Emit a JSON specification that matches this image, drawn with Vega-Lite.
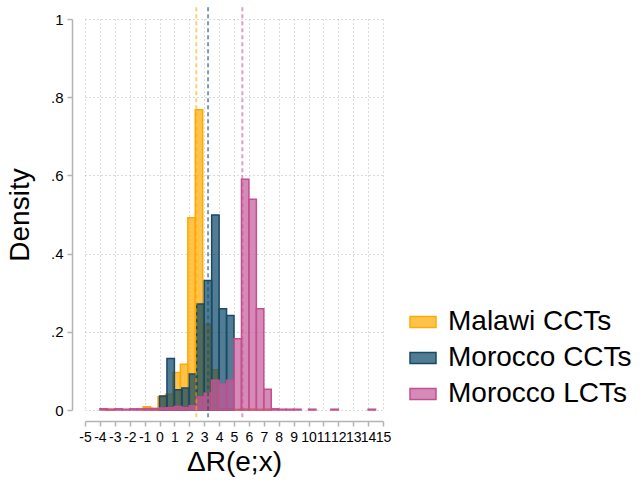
{
  "$schema": "https://vega.github.io/schema/vega-lite/v6.json",
  "width": 298,
  "height": 391,
  "autosize": "none",
  "padding": {"left": 85, "top": 19, "right": 257, "bottom": 73},
  "config": {
    "font": "Liberation Sans",
    "view": {"stroke": null},
    "axis": {
      "grid": true,
      "gridDash": [1, 3],
      "gridColor": "#b8b8b8",
      "gridWidth": 1,
      "domainColor": "#b4b4b4",
      "domainWidth": 1.5,
      "tickColor": "#b4b4b4",
      "tickWidth": 1.5,
      "tickSize": 5,
      "labelFontSize": 15,
      "labelColor": "#000000",
      "titleFontSize": 28,
      "titleFontWeight": "normal",
      "titleColor": "#000000"
    },
    "legend": {
      "orient": "none",
      "legendX": 324,
      "legendY": 289,
      "padding": 0,
      "symbolType": "M-1,-0.42H1V0.42H-1Z",
      "symbolSize": 676,
      "symbolStrokeWidth": 1.5,
      "labelFontSize": 28,
      "labelOffset": 11,
      "labelLimit": 400,
      "labelColor": "#000000",
      "rowPadding": 8
    }
  },
  "datasets": {
    "bins": [
      {"group": "Malawi CCTs", "lo": -3.6, "hi": -3.1, "density": 0.002},
      {"group": "Malawi CCTs", "lo": -1.1, "hi": -0.6, "density": 0.008},
      {"group": "Malawi CCTs", "lo": -0.6, "hi": -0.1, "density": 0.004},
      {"group": "Malawi CCTs", "lo": -0.1, "hi": 0.4, "density": 0.034},
      {"group": "Malawi CCTs", "lo": 0.4, "hi": 0.9, "density": 0.04},
      {"group": "Malawi CCTs", "lo": 0.9, "hi": 1.4, "density": 0.096},
      {"group": "Malawi CCTs", "lo": 1.4, "hi": 1.9, "density": 0.117},
      {"group": "Malawi CCTs", "lo": 1.9, "hi": 2.4, "density": 0.492},
      {"group": "Malawi CCTs", "lo": 2.4, "hi": 2.9, "density": 0.768},
      {"group": "Malawi CCTs", "lo": 2.9, "hi": 3.4, "density": 0.219},
      {"group": "Malawi CCTs", "lo": 3.4, "hi": 3.9, "density": 0.103},
      {"group": "Malawi CCTs", "lo": 3.9, "hi": 4.4, "density": 0.004},
      {"group": "Malawi CCTs", "lo": 4.4, "hi": 4.9, "density": 0.003},
      {"group": "Malawi CCTs", "lo": 4.9, "hi": 5.4, "density": 0.002},
      {"group": "Malawi CCTs", "lo": 5.4, "hi": 5.9, "density": 0.003},
      {"group": "Malawi CCTs", "lo": 5.9, "hi": 6.4, "density": 0.003},
      {"group": "Malawi CCTs", "lo": 6.4, "hi": 6.9, "density": 0.002},
      {"group": "Malawi CCTs", "lo": 6.9, "hi": 7.4, "density": 0.003},
      {"group": "Morocco CCTs", "lo": 0, "hi": 0.5, "density": 0.036},
      {"group": "Morocco CCTs", "lo": 0.5, "hi": 1, "density": 0.132},
      {"group": "Morocco CCTs", "lo": 1, "hi": 1.5, "density": 0.052},
      {"group": "Morocco CCTs", "lo": 1.5, "hi": 2, "density": 0.056},
      {"group": "Morocco CCTs", "lo": 2, "hi": 2.5, "density": 0.092},
      {"group": "Morocco CCTs", "lo": 2.5, "hi": 3, "density": 0.271},
      {"group": "Morocco CCTs", "lo": 3, "hi": 3.5, "density": 0.331},
      {"group": "Morocco CCTs", "lo": 3.5, "hi": 4, "density": 0.499},
      {"group": "Morocco CCTs", "lo": 4, "hi": 4.5, "density": 0.259},
      {"group": "Morocco CCTs", "lo": 4.5, "hi": 5, "density": 0.242},
      {"group": "Morocco LCTs", "lo": -4, "hi": -3.5, "density": 0.003},
      {"group": "Morocco LCTs", "lo": -3.5, "hi": -3, "density": 0.002},
      {"group": "Morocco LCTs", "lo": -3, "hi": -2.5, "density": 0.003},
      {"group": "Morocco LCTs", "lo": -2.5, "hi": -2, "density": 0.002},
      {"group": "Morocco LCTs", "lo": -2, "hi": -1.5, "density": 0.003},
      {"group": "Morocco LCTs", "lo": -1.5, "hi": -1, "density": 0.003},
      {"group": "Morocco LCTs", "lo": -1, "hi": -0.5, "density": 0.004},
      {"group": "Morocco LCTs", "lo": -0.5, "hi": 0, "density": 0.004},
      {"group": "Morocco LCTs", "lo": 0, "hi": 0.5, "density": 0.005},
      {"group": "Morocco LCTs", "lo": 0.5, "hi": 1, "density": 0.006},
      {"group": "Morocco LCTs", "lo": 1, "hi": 1.5, "density": 0.009},
      {"group": "Morocco LCTs", "lo": 1.5, "hi": 2, "density": 0.006},
      {"group": "Morocco LCTs", "lo": 2, "hi": 2.5, "density": 0.011},
      {"group": "Morocco LCTs", "lo": 2.5, "hi": 3, "density": 0.033},
      {"group": "Morocco LCTs", "lo": 3, "hi": 3.5, "density": 0.043},
      {"group": "Morocco LCTs", "lo": 3.5, "hi": 4, "density": 0.076},
      {"group": "Morocco LCTs", "lo": 4, "hi": 4.5, "density": 0.066},
      {"group": "Morocco LCTs", "lo": 4.5, "hi": 5, "density": 0.076},
      {"group": "Morocco LCTs", "lo": 5, "hi": 5.5, "density": 0.182},
      {"group": "Morocco LCTs", "lo": 5.5, "hi": 6, "density": 0.59},
      {"group": "Morocco LCTs", "lo": 6, "hi": 6.5, "density": 0.539},
      {"group": "Morocco LCTs", "lo": 6.5, "hi": 7, "density": 0.259},
      {"group": "Morocco LCTs", "lo": 7, "hi": 7.5, "density": 0.053},
      {"group": "Morocco LCTs", "lo": 7.5, "hi": 8, "density": 0.003},
      {"group": "Morocco LCTs", "lo": 8, "hi": 8.5, "density": 0.002},
      {"group": "Morocco LCTs", "lo": 8.5, "hi": 9, "density": 0.002},
      {"group": "Morocco LCTs", "lo": 9, "hi": 9.5, "density": 0.002},
      {"group": "Morocco LCTs", "lo": 10, "hi": 10.5, "density": 0.002},
      {"group": "Morocco LCTs", "lo": 11.5, "hi": 12, "density": 0.002},
      {"group": "Morocco LCTs", "lo": 14, "hi": 14.5, "density": 0.002}
    ],
    "means": [
      {"group": "Malawi CCTs", "mean": 2.47},
      {"group": "Morocco CCTs", "mean": 3.26},
      {"group": "Morocco LCTs", "mean": 5.56}
    ]
  },
  "layer": [
    {
      "data": {"name": "bins"},
      "mark": {"type": "rect", "fillOpacity": 0.7, "strokeWidth": 1.5},
      "encoding": {
        "x": {
          "field": "lo",
          "type": "quantitative",
          "scale": {"domain": [-5, 15], "nice": false, "zero": false},
          "axis": {
            "title": "ΔR(e;x)",
            "values": [-5, -4, -3, -2, -1, 0, 1, 2, 3, 4, 5, 6, 7, 8, 9, 10, 11, 12, 13, 14, 15],
            "labelExpr": "toString(datum.value)",
            "labelFontSize": 14,
            "labelOverlap": false,
            "labelFlush": false,
            "labelBound": false,
            "offset": 11,
            "labelPadding": 4,
            "titlePadding": 4
          }
        },
        "x2": {"field": "hi"},
        "y": {
          "field": "density",
          "type": "quantitative",
          "scale": {"domain": [0, 1], "nice": false, "zero": true},
          "axis": {
            "title": "Density",
            "values": [0, 0.2, 0.4, 0.6, 0.8, 1],
            "labelExpr": "datum.value == 0 ? '0' : datum.value == 1 ? '1' : replace(format(datum.value, '.1f'), '0.', '.')",
            "offset": 13,
            "labelPadding": 4,
            "titlePadding": 16
          }
        },
        "y2": {"datum": 0},
        "fill": {
          "field": "group",
          "type": "nominal",
          "scale": {
            "domain": ["Malawi CCTs", "Morocco CCTs", "Morocco LCTs"],
            "range": ["#FFAA00", "#094466", "#C4589A"]
          },
          "legend": {
            "title": null,
            "encode": {"symbols": {"update": {"fillOpacity": {"value": 0.7}}}}
          }
        },
        "stroke": {
          "field": "group",
          "type": "nominal",
          "scale": {
            "domain": ["Malawi CCTs", "Morocco CCTs", "Morocco LCTs"],
            "range": ["#FFAA00", "#164A66", "#C2508F"]
          },
          "legend": {"title": null}
        }
      }
    },
    {
      "data": {"name": "means"},
      "mark": {"type": "rule", "strokeWidth": 2, "strokeDash": [4, 3], "strokeOpacity": 0.55},
      "encoding": {
        "x": {
          "field": "mean",
          "type": "quantitative",
          "axis": {
            "title": "ΔR(e;x)",
            "values": [-5, -4, -3, -2, -1, 0, 1, 2, 3, 4, 5, 6, 7, 8, 9, 10, 11, 12, 13, 14, 15],
            "labelExpr": "toString(datum.value)",
            "labelFontSize": 14,
            "labelOverlap": false,
            "labelFlush": false,
            "labelBound": false,
            "offset": 11,
            "labelPadding": 4,
            "titlePadding": 4
          }
        },
        "y": {"datum": 1.03},
        "y2": {"datum": -0.025},
        "stroke": {"field": "group", "type": "nominal"}
      }
    }
  ]
}
